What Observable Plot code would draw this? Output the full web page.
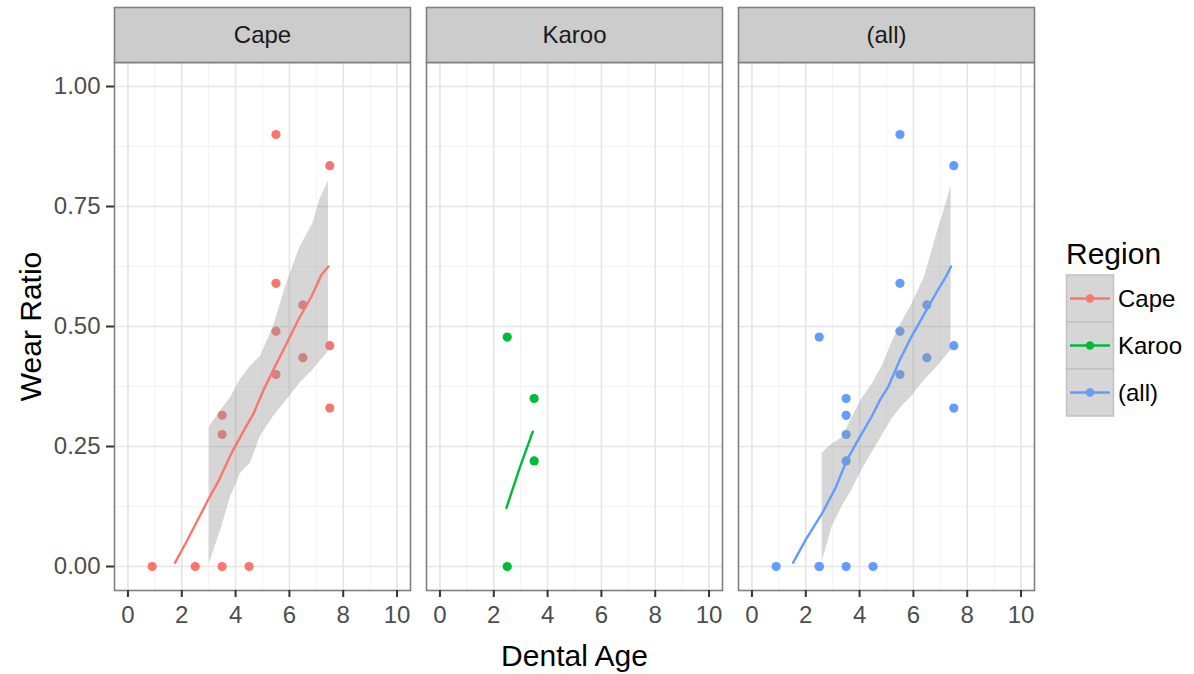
<!DOCTYPE html>
<html><head><meta charset="utf-8">
<script src="https://cdn.jsdelivr.net/npm/d3@7"></script>
<script src="https://cdn.jsdelivr.net/npm/@observablehq/plot@0.6"></script>
<style>
body{margin:0;background:#fff;}
#wrap{position:relative;width:1194px;height:674px;font-family:"Liberation Sans",Arial,sans-serif;}
#legend{position:absolute;left:0;top:0;}
</style></head><body><div id="wrap"></div>
<script>
// ---- data ----
const panels = ["Cape", "Karoo", "(all)"];
const regionColors = ["#F8766D", "#00BA38", "#619CFF"];
const xTicks = [0, 2, 4, 6, 8, 10];
const xMinor = [1, 3, 5, 7, 9];
const yTicks = [0, 0.25, 0.5, 0.75, 1.0];
const yMinor = [0.125, 0.375, 0.625, 0.875];

const capeAge  = [0.9, 2.5, 3.5, 3.5, 3.5, 4.5, 5.5, 5.5, 5.5, 5.5, 6.5, 6.5, 7.5, 7.5, 7.5];
const capeWear = [0, 0, 0, 0.275, 0.315, 0, 0.90, 0.59, 0.49, 0.40, 0.545, 0.435, 0.835, 0.46, 0.33];
const karooAge  = [2.5, 2.5, 3.5, 3.5];
const karooWear = [0.478, 0, 0.35, 0.22];

// smooth lines
const capeFitAge  = [1.75, 2.16, 2.53, 2.96, 3.39, 3.82, 4.25, 4.67, 5.04, 5.47, 5.90, 6.33, 6.82, 7.19, 7.45];
const capeFitWear = [0.008, 0.050, 0.090, 0.137, 0.181, 0.233, 0.278, 0.319, 0.368, 0.417, 0.465, 0.514, 0.5625, 0.608, 0.625];
const karooFitAge  = [2.47, 2.96, 3.45];
const karooFitWear = [0.122, 0.205, 0.281];
const allFitAge  = [1.53, 2.0, 2.61, 3.10, 3.53, 4.02, 4.45, 4.76, 5.07, 5.50, 5.93, 6.42, 6.91, 7.21, 7.40];
const allFitWear = [0.008, 0.056, 0.111, 0.163, 0.222, 0.271, 0.3125, 0.347, 0.375, 0.431, 0.479, 0.528, 0.576, 0.604, 0.625];

// confidence bands
const capeBandAge  = [3.02, 3.45, 3.82, 4.18, 4.55, 4.92, 5.41, 5.90, 6.39, 6.88, 7.13, 7.45];
const capeBandLow  = [0.005, 0.076, 0.146, 0.194, 0.215, 0.271, 0.3125, 0.347, 0.382, 0.410, 0.427, 0.448];
const capeBandHigh = [0.290, 0.325, 0.352, 0.390, 0.417, 0.4375, 0.500, 0.590, 0.665, 0.715, 0.764, 0.803];
const allBandAge  = [2.61, 2.98, 3.35, 3.72, 4.09, 4.45, 4.82, 5.19, 5.56, 5.93, 6.42, 6.91, 7.15, 7.40];
const allBandLow  = [0.01, 0.083, 0.125, 0.160, 0.201, 0.236, 0.271, 0.306, 0.333, 0.354, 0.389, 0.417, 0.434, 0.451];
const allBandHigh = [0.236, 0.255, 0.268, 0.310, 0.350, 0.378, 0.415, 0.465, 0.508, 0.545, 0.604, 0.701, 0.743, 0.792];

// ---- tables ----
const pts = [];
capeAge.forEach((a, i) => {
  pts.push({panel: "Cape", region: "Cape", age: a, wear: capeWear[i]});
  pts.push({panel: "(all)", region: "(all)", age: a, wear: capeWear[i]});
});
karooAge.forEach((a, i) => {
  pts.push({panel: "Karoo", region: "Karoo", age: a, wear: karooWear[i]});
  pts.push({panel: "(all)", region: "(all)", age: a, wear: karooWear[i]});
});
const fits = [
  ...capeFitAge.map((a, i) => ({panel: "Cape", region: "Cape", age: a, wear: capeFitWear[i]})),
  ...karooFitAge.map((a, i) => ({panel: "Karoo", region: "Karoo", age: a, wear: karooFitWear[i]})),
  ...allFitAge.map((a, i) => ({panel: "(all)", region: "(all)", age: a, wear: allFitWear[i]}))
];
const bands = [
  ...capeBandAge.map((a, i) => ({panel: "Cape", age: a, low: capeBandLow[i], high: capeBandHigh[i]})),
  ...allBandAge.map((a, i) => ({panel: "(all)", age: a, low: allBandLow[i], high: allBandHigh[i]}))
];
const strips = panels.map(p => ({panel: p}));

const font = "Liberation Sans, Arial, sans-serif";
const chart = Plot.plot({
  width: 1194, height: 674,
  marginLeft: 113, marginRight: 159, marginTop: 62, marginBottom: 84,
  style: {fontFamily: font, background: "white"},
  fx: {domain: panels, paddingInner: 0.05, paddingOuter: 0, label: null, axis: null},
  x: {domain: [-0.5, 10.5], label: null},
  y: {domain: [-0.05, 1.05], label: null},
  color: {domain: panels, range: regionColors},
  marks: [
    Plot.gridX(xMinor, {stroke: "#F3F3F3", strokeOpacity: 1, strokeWidth: 1}),
    Plot.gridY(yMinor, {stroke: "#F3F3F3", strokeOpacity: 1, strokeWidth: 1}),
    Plot.gridX(xTicks, {stroke: "#E5E5E5", strokeOpacity: 1, strokeWidth: 1.6}),
    Plot.gridY(yTicks, {stroke: "#E5E5E5", strokeOpacity: 1, strokeWidth: 1.6}),
    Plot.dot(pts, {fx: "panel", x: "age", y: "wear", fill: "region", r: 4.6}),
    Plot.areaY(bands, {fx: "panel", x: "age", y1: "low", y2: "high", fill: "#999999", fillOpacity: 0.4}),
    Plot.line(fits, {fx: "panel", x: "age", y: "wear", z: "panel", stroke: "region", strokeWidth: 2.4}),
    Plot.frame({stroke: "#808080", strokeWidth: 1.6}),
    Plot.frame({fill: "#CCCCCC", stroke: "#808080", strokeWidth: 1.6, insetTop: -55, insetBottom: 528}),
    Plot.text(strips, {fx: "panel", text: "panel", frameAnchor: "top", lineAnchor: "middle", dy: -27, fontSize: 24, fill: "#1A1A1A"}),
    Plot.axisX(xTicks, {tickSize: 7, tickPadding: 8, fontSize: 24, stroke: "#333333", strokeWidth: 2, fill: "#4D4D4D", label: null}),
    Plot.axisY(yTicks, {tickSize: 8, tickPadding: 6, fontSize: 24, stroke: "#333333", strokeWidth: 2, fill: "#4D4D4D", tickFormat: d3.format(".2f"), label: null}),
    Plot.text([{panel: "Karoo"}], {fx: "panel", text: () => "Dental Age", frameAnchor: "bottom", lineAnchor: "middle", textAnchor: "middle", dy: 66, fontSize: 30, fill: "black"}),
    Plot.text([{panel: "Cape"}], {fx: "panel", text: () => "Wear Ratio", frameAnchor: "left", lineAnchor: "middle", textAnchor: "middle", dx: -83, rotate: -90, fontSize: 30, fill: "black"})
  ]
});
const wrap = document.getElementById("wrap");
wrap.appendChild(chart);

// ---- legend ----
const colorScale = chart.scale("color");
const leg = d3.select(wrap).append("svg").attr("id", "legend")
  .attr("width", 1194).attr("height", 674)
  .style("font-family", font);
leg.append("text").attr("x", 1066).attr("y", 264).attr("font-size", 30).attr("fill", "black").text("Region");
colorScale.domain.forEach((name, i) => {
  const y0 = 275 + i * 47;
  const g = leg.append("g");
  g.append("rect").attr("x", 1066.5).attr("y", y0).attr("width", 47).attr("height", 47)
    .attr("fill", "#D6D6D6").attr("stroke", "#C2C2C2").attr("stroke-width", 1.5);
  g.append("line").attr("x1", 1070).attr("x2", 1110).attr("y1", y0 + 23.5).attr("y2", y0 + 23.5)
    .attr("stroke", colorScale.range[i]).attr("stroke-width", 2.6);
  g.append("circle").attr("cx", 1090).attr("cy", y0 + 23.5).attr("r", 4.2).attr("fill", colorScale.range[i]);
  g.append("text").attr("x", 1118).attr("y", y0 + 23.5).attr("dy", "0.35em")
    .attr("font-size", 24).attr("fill", "black").text(name);
});
</script></body></html>
